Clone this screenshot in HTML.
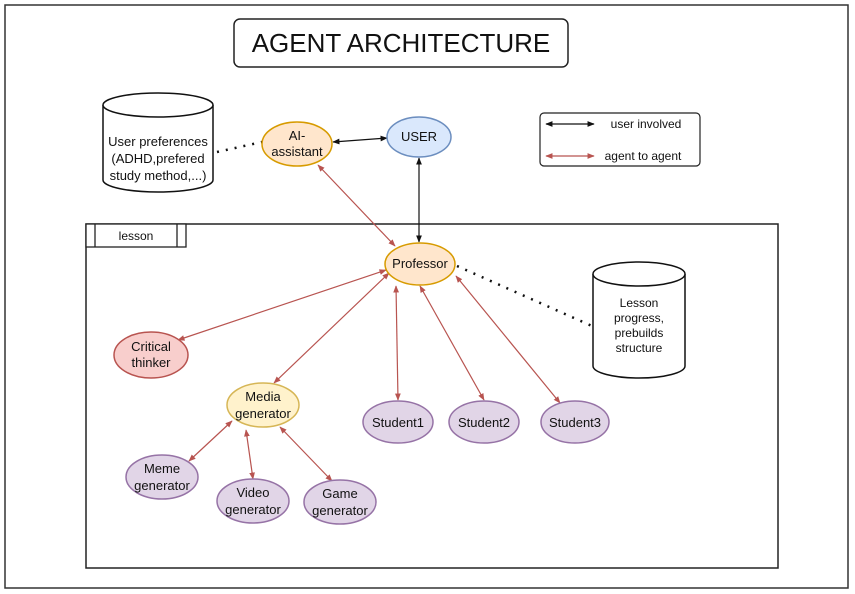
<!DOCTYPE html>
<html><head><meta charset="utf-8"><style>
body{margin:0;background:#fff}
svg{display:block}
text{font-family:"Liberation Sans",sans-serif;fill:#111;text-anchor:middle}
</style></head><body>
<svg width="855" height="594" viewBox="0 0 855 594" xmlns="http://www.w3.org/2000/svg">
<defs>
<marker id="r" viewBox="0 0 10 10" refX="9" refY="5" markerWidth="6" markerHeight="6" orient="auto-start-reverse"><path d="M0,1 L10,5 L0,9 z" fill="#b85450"/></marker>
<marker id="b" viewBox="0 0 10 10" refX="9" refY="5" markerWidth="6" markerHeight="6" orient="auto-start-reverse"><path d="M0,1 L10,5 L0,9 z" fill="#111"/></marker>
</defs>
<rect x="5" y="5" width="843" height="583" fill="#fff" stroke="#333" stroke-width="1.5"/>
<rect x="234" y="19" width="334" height="48" rx="6" fill="#fff" stroke="#222" stroke-width="1.5"/>
<text x="401" y="52" font-size="26">AGENT ARCHITECTURE</text>

<!-- cylinder 1 -->
<path d="M103,105 L103,180 A55,12 0 0 0 213,180 L213,105" fill="#fff" stroke="#111" stroke-width="1.5"/>
<ellipse cx="158" cy="105" rx="55" ry="12" fill="#fff" stroke="#111" stroke-width="1.5"/>
<text x="158" y="146" font-size="13">User preferences</text>
<text x="158" y="163" font-size="13">(ADHD,prefered</text>
<text x="158" y="180" font-size="13">study method,...)</text>
<line x1="217" y1="152" x2="262" y2="142" stroke="#111" stroke-width="2.5" stroke-dasharray="2,7"/>

<!-- legend -->
<rect x="540" y="113" width="160" height="53" rx="4" fill="#fff" stroke="#222" stroke-width="1.2"/>
<line x1="546" y1="124" x2="594" y2="124" stroke="#111" stroke-width="1.2" marker-start="url(#b)" marker-end="url(#b)"/>
<text x="646" y="128" font-size="12">user involved</text>
<line x1="546" y1="156" x2="594" y2="156" stroke="#b85450" stroke-width="1.2" marker-start="url(#r)" marker-end="url(#r)"/>
<text x="643" y="160" font-size="12">agent to agent</text>

<!-- lesson frame -->
<rect x="86" y="224" width="692" height="344" fill="none" stroke="#222" stroke-width="1.5"/>
<rect x="86" y="224" width="100" height="23" fill="#fff" stroke="#222" stroke-width="1.3"/>
<line x1="95" y1="224" x2="95" y2="247" stroke="#222" stroke-width="1.3"/>
<line x1="177" y1="224" x2="177" y2="247" stroke="#222" stroke-width="1.3"/>
<text x="136" y="240" font-size="12">lesson</text>

<!-- cylinder 2 -->
<path d="M593,274 L593,366 A46,12 0 0 0 685,366 L685,274" fill="#fff" stroke="#111" stroke-width="1.5"/>
<ellipse cx="639" cy="274" rx="46" ry="12" fill="#fff" stroke="#111" stroke-width="1.5"/>
<text x="639" y="307" font-size="12">Lesson</text>
<text x="639" y="322" font-size="12">progress,</text>
<text x="639" y="337" font-size="12">prebuilds</text>
<text x="639" y="352" font-size="12">structure</text>
<line x1="457" y1="266" x2="592" y2="326" stroke="#111" stroke-width="2.5" stroke-dasharray="2,7"/>

<!-- connectors -->
<g stroke="#b85450" stroke-width="1.2" fill="none" marker-start="url(#r)" marker-end="url(#r)">
<line x1="395" y1="246" x2="318" y2="165"/>
<line x1="386" y1="270" x2="178" y2="340"/>
<line x1="389" y1="273" x2="274" y2="383"/>
<line x1="396" y1="286" x2="398" y2="400"/>
<line x1="420" y1="286" x2="484" y2="400"/>
<line x1="456" y1="276" x2="560" y2="403"/>
<line x1="232" y1="421" x2="189" y2="461"/>
<line x1="246" y1="430" x2="253" y2="479"/>
<line x1="280" y1="427" x2="332" y2="481"/>
</g>
<g stroke="#111" stroke-width="1.2" marker-start="url(#b)" marker-end="url(#b)">
<line x1="333" y1="142" x2="387" y2="138"/>
<line x1="419" y1="158" x2="419" y2="242"/>
</g>

<!-- nodes -->
<g stroke-width="1.5">
<ellipse cx="297" cy="144" rx="35" ry="22" fill="#ffe6cc" stroke="#d79b00"/>
<ellipse cx="419" cy="137" rx="32" ry="20" fill="#dae8fc" stroke="#6c8ebf"/>
<ellipse cx="420" cy="264" rx="35" ry="21" fill="#ffe6cc" stroke="#d79b00"/>
<ellipse cx="151" cy="355" rx="37" ry="23" fill="#f8cecc" stroke="#b85450"/>
<ellipse cx="263" cy="405" rx="36" ry="22" fill="#fff2cc" stroke="#d6b656"/>
<ellipse cx="398" cy="422" rx="35" ry="21" fill="#e1d5e7" stroke="#9673a6"/>
<ellipse cx="484" cy="422" rx="35" ry="21" fill="#e1d5e7" stroke="#9673a6"/>
<ellipse cx="575" cy="422" rx="34" ry="21" fill="#e1d5e7" stroke="#9673a6"/>
<ellipse cx="162" cy="477" rx="36" ry="22" fill="#e1d5e7" stroke="#9673a6"/>
<ellipse cx="253" cy="501" rx="36" ry="22" fill="#e1d5e7" stroke="#9673a6"/>
<ellipse cx="340" cy="502" rx="36" ry="22" fill="#e1d5e7" stroke="#9673a6"/>
</g>
<g font-size="13">
<text x="297" y="140">AI-</text><text x="297" y="156">assistant</text>
<text x="419" y="141">USER</text>
<text x="420" y="268">Professor</text>
<text x="151" y="351">Critical</text><text x="151" y="367">thinker</text>
<text x="263" y="401">Media</text><text x="263" y="418">generator</text>
<text x="398" y="427">Student1</text>
<text x="484" y="427">Student2</text>
<text x="575" y="427">Student3</text>
<text x="162" y="473">Meme</text><text x="162" y="490">generator</text>
<text x="253" y="497">Video</text><text x="253" y="514">generator</text>
<text x="340" y="498">Game</text><text x="340" y="515">generator</text>
</g>
</svg>
</body></html>
